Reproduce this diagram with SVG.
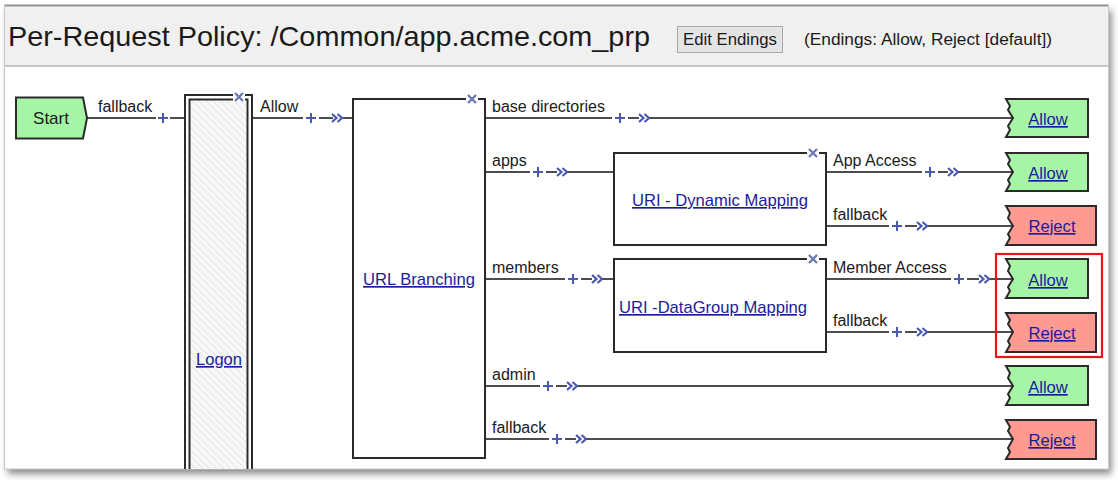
<svg xmlns="http://www.w3.org/2000/svg" width="1118" height="480" viewBox="0 0 1118 480">
<defs>
<filter id="sh" x="-5%" y="-5%" width="110%" height="115%">
<feDropShadow dx="3" dy="5" stdDeviation="3.5" flood-color="#000" flood-opacity="0.45"/>
</filter>
<clipPath id="panelclip"><rect x="4.5" y="5" width="1104" height="464"/></clipPath>
<pattern id="hatch" width="7" height="7" patternUnits="userSpaceOnUse">
<rect width="7" height="7" fill="#f7f7f7"/>
<path d="M-1,-1 L8,8 M-1,6 L1,8 M6,-1 L8,1" stroke="#e0e0e0" stroke-width="1"/>
</pattern>
<g id="plus"><path d="M-5,0 H5 M0,-5 V5" stroke="#4a58b0" stroke-width="2"/></g>
<g id="chev"><path d="M0,-4 L4.5,0 L0,4 M5.5,-4 L10,0 L5.5,4" fill="none" stroke="#4a58b0" stroke-width="2.2"/></g>
<g id="xm"><path d="M-4,-4 L4,4 M-4,4 L4,-4" stroke="#6a78b4" stroke-width="2.3"/></g>
</defs>
<style>
.t{font-family:"Liberation Sans",Arial,sans-serif;fill:#1a1a1a}
.lbl{font-family:"Liberation Sans",Arial,sans-serif;font-size:16px;fill:#1a1a1a}
.lnk{font-family:"Liberation Sans",Arial,sans-serif;font-size:16.6px;fill:#1c1c9a;text-decoration:underline}
.ln{stroke:#4d4d4d;stroke-width:2;fill:none}
.box{fill:#fff;stroke:#2a2a2a;stroke-width:2}
.allow{fill:#a6f5a6;stroke:#2a2a2a;stroke-width:2}
.reject{fill:#ff9a92;stroke:#2a2a2a;stroke-width:2}
</style>

<!-- panel -->
<rect x="4.5" y="5" width="1104" height="464" fill="#fff" filter="url(#sh)"/>
<rect x="4.5" y="5" width="1104" height="61" fill="#f0f0f0"/>
<line x1="4.5" y1="66" x2="1108.5" y2="66" stroke="#b4b4b4" stroke-width="1.5"/>
<line x1="4.5" y1="5.5" x2="1108.5" y2="5.5" stroke="#4a4f58" stroke-width="1.5"/>
<rect x="4.5" y="5" width="1104" height="464" fill="none" stroke="#c8c8c8" stroke-width="1"/>

<g id="header">
<text class="t" x="8" y="46" font-size="28.5" textLength="642" lengthAdjust="spacingAndGlyphs">Per-Request Policy: /Common/app.acme.com_prp</text>
<rect x="677.5" y="26.5" width="105" height="26" fill="#e4e4e4" stroke="#a8a8a8" stroke-width="1"/>
<text class="t" x="683" y="45" font-size="16" textLength="94" lengthAdjust="spacingAndGlyphs">Edit Endings</text>
<text class="t" x="804" y="45" font-size="16" textLength="248" lengthAdjust="spacingAndGlyphs">(Endings: Allow, Reject [default])</text>
</g>

<g id="connectors">
<!-- Start -> Logon -->
<path class="ln" d="M87,118 H156 M170,118 H185"/>
<use href="#plus" x="163" y="118"/>
<text class="lbl" x="98" y="112">fallback</text>
<!-- Logon -> URL Branching -->
<path class="ln" d="M252,118 H303 M319,118 H333 M343,118 H353"/>
<use href="#plus" x="311" y="118"/><use href="#chev" x="332" y="118"/>
<text class="lbl" x="260" y="112">Allow</text>
<!-- base directories -->
<path class="ln" d="M485,118 H612 M628,118 H639 M649,118 H1012"/>
<use href="#plus" x="620" y="118"/><use href="#chev" x="639" y="118"/>
<text class="lbl" x="492" y="112">base directories</text>
<!-- apps -->
<path class="ln" d="M485,172 H530 M546,172 H557 M567,172 H614"/>
<use href="#plus" x="538" y="172"/><use href="#chev" x="557" y="172"/>
<text class="lbl" x="492" y="166">apps</text>
<!-- members -->
<path class="ln" d="M485,279 H565 M581,279 H592 M602,279 H614"/>
<use href="#plus" x="573" y="279"/><use href="#chev" x="592" y="279"/>
<text class="lbl" x="492" y="273">members</text>
<!-- admin -->
<path class="ln" d="M485,386 H540 M556,386 H567 M577,386 H1012"/>
<use href="#plus" x="548" y="386"/><use href="#chev" x="567" y="386"/>
<text class="lbl" x="492" y="380">admin</text>
<!-- fallback (URL) -->
<path class="ln" d="M485,439 H549 M565,439 H576 M586,439 H1012"/>
<use href="#plus" x="557" y="439"/><use href="#chev" x="576" y="439"/>
<text class="lbl" x="492" y="433">fallback</text>
<!-- App Access -->
<path class="ln" d="M826,172 H922 M938,172 H948 M958,172 H1012"/>
<use href="#plus" x="930" y="172"/><use href="#chev" x="948" y="172"/>
<text class="lbl" x="833" y="166">App Access</text>
<!-- fallback (Dynamic) -->
<path class="ln" d="M826,226 H889 M905,226 H917 M927,226 H1012"/>
<use href="#plus" x="897" y="226"/><use href="#chev" x="917" y="226"/>
<text class="lbl" x="833" y="220">fallback</text>
<!-- Member Access -->
<path class="ln" d="M826,279 H951 M967,279 H979 M989,279 H1012"/>
<use href="#plus" x="959" y="279"/><use href="#chev" x="979" y="279"/>
<text class="lbl" x="833" y="273">Member Access</text>
<!-- fallback (DataGroup) -->
<path class="ln" d="M826,332 H889 M905,332 H917 M927,332 H1012"/>
<use href="#plus" x="897" y="332"/><use href="#chev" x="917" y="332"/>
<text class="lbl" x="833" y="326">fallback</text>
</g>

<g id="start">
<path class="allow" d="M16,97.5 H83 L87,118 L83,138.5 H16 Z"/>
<text class="t" x="51" y="124" font-size="17" text-anchor="middle">Start</text>
</g>

<g id="logon" clip-path="url(#panelclip)">
<rect x="185" y="95" width="67" height="380" fill="#fff" stroke="#2a2a2a" stroke-width="2"/>
<rect x="189.5" y="99.5" width="58" height="380" fill="url(#hatch)" stroke="#2a2a2a" stroke-width="2"/>
<rect x="233" y="92" width="12" height="10" fill="#fff"/>
<use href="#xm" x="239" y="97"/>
<text class="lnk" x="219" y="365" text-anchor="middle">Logon</text>
</g>

<g id="url-branching">
<rect class="box" x="353" y="99" width="132" height="359"/>
<rect x="466" y="94" width="12" height="10" fill="#fff"/>
<use href="#xm" x="472" y="99"/>
<text class="lnk" x="419" y="285" text-anchor="middle">URL Branching</text>
</g>

<g id="uri-dynamic">
<rect class="box" x="614" y="153" width="212" height="92"/>
<rect x="807" y="148" width="12" height="10" fill="#fff"/>
<use href="#xm" x="813" y="153"/>
<text class="lnk" x="720" y="206" text-anchor="middle">URI - Dynamic Mapping</text>
</g>

<g id="uri-datagroup">
<rect class="box" x="614" y="259" width="212" height="93"/>
<rect x="807" y="254" width="12" height="10" fill="#fff"/>
<use href="#xm" x="813" y="259"/>
<text class="lnk" x="713" y="313" text-anchor="middle">URI -DataGroup Mapping</text>
</g>

<g id="end-allow-1">
<path class="allow" d="M1006,99 H1088 V137 H1006 L1010,130 L1008,126 L1013,118 L1008,110 L1010,106 Z"/>
<text class="lnk" x="1048" y="125" text-anchor="middle">Allow</text>
</g>
<g id="end-allow-2">
<path class="allow" d="M1006,153 H1088 V191 H1006 L1010,184 L1008,180 L1013,172 L1008,164 L1010,160 Z"/>
<text class="lnk" x="1048" y="179" text-anchor="middle">Allow</text>
</g>
<g id="end-reject-1">
<path class="reject" d="M1006,206 H1096 V245 H1006 L1010,238 L1008,234 L1013,226 L1008,218 L1010,213 Z"/>
<text class="lnk" x="1052" y="232" text-anchor="middle">Reject</text>
</g>
<g id="end-allow-3">
<path class="allow" d="M1006,259 H1088 V298 H1006 L1010,291 L1008,287 L1013,279 L1008,271 L1010,266 Z"/>
<text class="lnk" x="1048" y="286" text-anchor="middle">Allow</text>
</g>
<g id="end-reject-2">
<path class="reject" d="M1006,313 H1096 V352 H1006 L1010,345 L1008,341 L1013,332 L1008,324 L1010,320 Z"/>
<text class="lnk" x="1052" y="339" text-anchor="middle">Reject</text>
</g>
<g id="end-allow-4">
<path class="allow" d="M1006,366 H1088 V405 H1006 L1010,398 L1008,394 L1013,386 L1008,378 L1010,373 Z"/>
<text class="lnk" x="1048" y="393" text-anchor="middle">Allow</text>
</g>
<g id="end-reject-3">
<path class="reject" d="M1006,420 H1096 V459 H1006 L1010,452 L1008,448 L1013,439 L1008,431 L1010,427 Z"/>
<text class="lnk" x="1052" y="446" text-anchor="middle">Reject</text>
</g>

<g id="highlight">
<rect x="996" y="254" width="106" height="103" fill="none" stroke="#e8141a" stroke-width="2.2"/>
</g>
</svg>
